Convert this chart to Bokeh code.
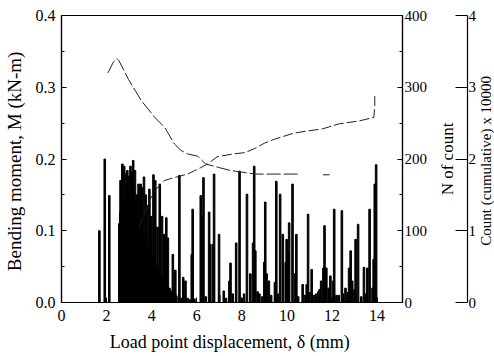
from bokeh.plotting import figure
from bokeh.models import (Range1d, LinearAxis, SingleIntervalTicker, PrintfTickFormatter)
from bokeh.layouts import row
from bokeh.core.properties import value
from bokeh.embed import file_html
from bokeh.resources import INLINE
import math

# ---- data ----
# bending moment curve, M (kN-m)
bm_x = [2.06, 2.3, 2.46, 2.55, 2.97, 3.55, 4.14, 4.58, 5.01, 5.3, 5.6, 6.04, 6.2, 6.4, 7.0, 7.5, 8.16, 8.6, 10.6, float("nan"), 11.6, 11.9]
bm_y = [0.32, 0.335, 0.34, 0.337, 0.311, 0.281, 0.258, 0.244, 0.221, 0.212, 0.207, 0.204, 0.199, 0.193, 0.188, 0.184, 0.181, 0.179, 0.179, float("nan"), 0.178, 0.178]

# cumulative count (x 10000)
cum_x = [3.45, 3.55, 3.9, 4.2, 4.56, 5.0, 5.6, 6.18, 6.48, 6.9, 7.6, 8.16, 8.6, 9.0, 9.4, 9.8, 10.3, 10.9, 11.58, 12.32, 13.2, 13.86, 13.9, 13.9]
cum_y = [1.05, 1.14, 1.42, 1.58, 1.70, 1.74, 1.79, 1.88, 1.93, 2.03, 2.07, 2.09, 2.15, 2.22, 2.27, 2.31, 2.36, 2.39, 2.42, 2.49, 2.53, 2.58, 2.75, 2.91]

# N of count: dense region
dense_x = [2.56, 2.60, 2.64, 2.68, 2.72, 2.76, 2.80, 2.84, 2.88, 2.92, 2.96, 3.00, 3.04, 3.08,
           3.12, 3.16, 3.20, 3.24, 3.28, 3.32, 3.36, 3.40, 3.44, 3.48, 3.52, 3.56, 3.60, 3.64,
           3.68, 3.72, 3.76, 3.80, 3.84, 3.88, 3.92, 3.96, 4.00, 4.04, 4.08, 4.12, 4.16, 4.20,
           4.24, 4.28, 4.32, 4.36, 4.40, 4.44, 4.48, 4.52, 4.56, 4.60, 4.64, 4.68, 4.72, 4.76,
           4.80, 4.84, 4.88, 4.92, 4.96, 5.00, 5.05, 5.10, 5.20, 5.30, 5.40, 5.50, 5.60, 5.70]
dense_n = [110, 125, 120, 130, 122, 135, 128, 140, 132, 145, 138, 150, 142, 155,
           160, 150, 158, 140, 130, 118, 110, 100, 95, 105, 100, 95, 105, 88,
           92, 80, 85, 74, 78, 68, 72, 60, 64, 55, 60, 48, 52, 45,
           50, 40, 44, 36, 40, 32, 36, 28, 30, 24, 26, 20, 22, 18,
           20, 15, 16, 12, 14, 10, 12, 8, 10, 6, 8, 5, 6, 4]

# N of count: individual spikes
spike_x = [1.68, 1.92, 2.12,
           2.62, 2.70, 2.78, 2.86, 2.92, 3.00, 3.06, 3.12, 3.18, 3.26, 3.34, 3.42, 3.51, 3.58,
           3.66, 3.74, 3.80, 3.90, 3.98, 4.08, 4.16, 4.26, 4.36, 4.46, 4.56, 4.65, 4.72,
           4.94, 5.05, 5.23, 5.40, 5.50, 5.78, 5.82, 6.18, 6.24, 6.30, 6.55, 6.60, 6.72, 6.77,
           6.99, 7.20, 7.45, 7.50, 7.75, 7.90, 8.10,
           8.23, 8.38, 8.50, 8.55, 8.60, 8.70, 8.78, 9.00, 9.04, 9.10, 9.20, 9.47, 9.53, 9.70,
           9.82, 9.95, 9.99, 10.05, 10.10, 10.25, 10.36, 10.42, 10.70, 10.88, 10.94, 11.10,
           11.20, 11.40,
           11.52, 11.62, 11.67, 11.75, 11.93, 12.05, 12.10, 12.30, 12.44, 12.60, 12.76, 12.83,
           12.90, 13.05, 13.16, 13.30, 13.42, 13.57, 13.67, 13.80, 13.85, 13.90, 13.96,
           5.90, 6.40, 7.00, 7.30, 7.60, 8.00, 8.90, 9.30, 9.60, 10.50, 10.80, 11.00, 11.30,
           11.45, 11.85, 12.20, 12.50, 12.70, 13.00, 13.50]
spike_n = [100, 200, 149,
           170, 193, 190, 180, 184, 176, 190, 182, 198, 184, 150, 165, 165, 160,
           175, 150, 135, 158, 120, 178, 170, 105, 165, 120, 95, 118, 90,
           67, 45, 177, 35, 30, 67, 130, 149, 121, 174, 126, 81, 81, 179,
           95, 16, 30, 55, 83, 183, 12,
           151, 40, 83, 190, 72, 15, 12, 56, 140, 40, 30, 28, 169, 151,
           95, 56, 88, 70, 111, 165, 40, 95, 25, 25, 123, 46,
           10, 15,
           30, 48, 107, 48, 37, 30, 130, 10, 128, 20, 48, 72,
           30, 88, 109, 8, 49, 48, 130, 20, 60, 165, 192,
           5, 8, 10, 6, 12, 6, 8, 10, 12, 8, 10, 14, 12,
           18, 20, 10, 12, 14, 18, 12]

FONT = "Liberation Serif"
X_MAX = 15.13
H = 356
TOP, BOTTOM = 15, 54


def clean(fig):
    fig.xgrid.visible = False
    fig.ygrid.visible = False
    fig.background_fill_color = "white"
    fig.border_fill_color = "white"


def style(ax, label_size="15px", axis_label_size="18px"):
    ax.axis_label_text_font = FONT
    ax.axis_label_text_font_style = "normal"
    ax.axis_label_text_font_size = axis_label_size
    ax.axis_label_text_color = "black"
    ax.major_label_text_font = FONT
    ax.major_label_text_font_size = label_size
    ax.major_label_text_color = "black"
    ax.axis_line_color = "black"
    ax.axis_line_width = 1.2
    ax.major_tick_line_color = "black"
    ax.minor_tick_line_color = "black"
    ax.major_tick_out = 0
    ax.minor_tick_out = 0
    ax.major_tick_in = 5
    ax.minor_tick_in = 3


# ---------------- main plot ----------------
p = figure(width=430, height=H, output_backend="svg", toolbar_location=None,
           x_range=Range1d(0, X_MAX), y_range=Range1d(0, 0.4),
           min_border_left=59, min_border_right=26, min_border_top=TOP, min_border_bottom=BOTTOM)
p.extra_y_ranges = {"count": Range1d(0, 400), "cum": Range1d(0, 4)}
clean(p)
p.outline_line_color = "black"
p.outline_line_width = 1.2

p.vbar(x=dense_x, top=dense_n, width=0.055, bottom=0, color="black", y_range_name="count")
p.vbar(x=spike_x, top=spike_n, width=0.07, bottom=0, color="black", y_range_name="count")

p.line(bm_x, bm_y, line_color="#222222", line_width=1, line_dash="14 3")
p.line(cum_x, cum_y, line_color="#222222", line_width=1, line_dash="10 3", y_range_name="cum")

xa = p.xaxis[0]
xa.ticker = SingleIntervalTicker(interval=2, num_minor_ticks=0)
xa.axis_label = "Load point displacement,  δ (mm)"
style(xa, label_size="16px")
xa.major_label_standoff = 7
xa.axis_label_standoff = 8

ya = p.yaxis[0]
ya.ticker = SingleIntervalTicker(interval=0.1, num_minor_ticks=2)
ya.formatter = PrintfTickFormatter(format="%.1f")
ya.axis_label = "Bending moment,  M (kN-m)"
style(ya, label_size="16px", axis_label_size="19px")
ya.major_label_standoff = 6
ya.axis_label_standoff = 8

ra = LinearAxis(y_range_name="count",
                ticker=SingleIntervalTicker(interval=100, num_minor_ticks=2))
style(ra)
ra.major_label_standoff = 2
p.add_layout(ra, "right")

# ---------------- side panel 1: "N of count" title + cumulative axis ----------------
s1 = figure(width=49, height=H, output_backend="svg", toolbar_location=None,
            x_range=Range1d(430, 470), y_range=Range1d(0, 4),
            x_axis_type=None, y_axis_type=None,
            min_border_left=0, min_border_right=9, min_border_top=TOP, min_border_bottom=BOTTOM)
clean(s1)
s1.outline_line_color = None
s1.text(x=[448], y=[2.0], text=["N of count"], angle=math.pi / 2,
        text_align="center", text_baseline="middle",
        text_font=value(FONT), text_font_size=value("17px"), text_color="black")

ca = LinearAxis(ticker=SingleIntervalTicker(interval=1, num_minor_ticks=0))
style(ca)
ca.major_tick_in = 12
ca.minor_tick_in = 0
ca.major_label_standoff = 1
s1.add_layout(ca, "right")

# ---------------- side panel 2: cumulative axis title ----------------
s2 = figure(width=15, height=H, output_backend="svg", toolbar_location=None,
            x_range=Range1d(479, 494), y_range=Range1d(0, 4),
            x_axis_type=None, y_axis_type=None,
            min_border_left=0, min_border_right=0, min_border_top=TOP, min_border_bottom=BOTTOM)
clean(s2)
s2.outline_line_color = None
s2.text(x=[485], y=[2.0], text=["Count (cumulative)  x 10000"], angle=math.pi / 2,
        text_align="center", text_baseline="middle",
        text_font=value(FONT), text_font_size=value("15px"), text_color="black")

layout = row(p, s1, s2, spacing=0)
open("out.html", "w").write(file_html(layout, INLINE))
